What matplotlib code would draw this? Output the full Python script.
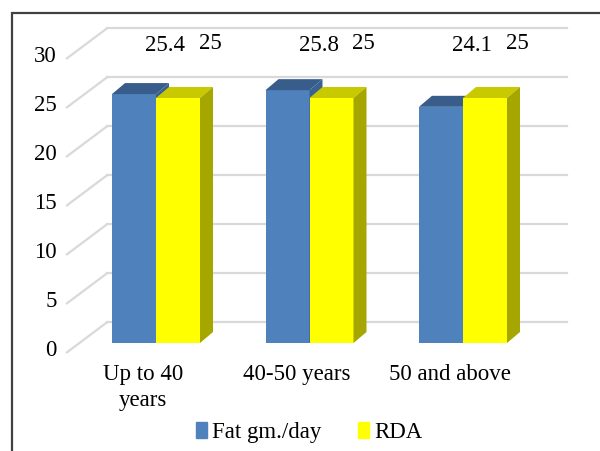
import numpy as np
import matplotlib.pyplot as plt
from matplotlib.patches import Polygon, Rectangle

# values per age group
groups = ["Up to 40\nyears", "40-50 years", "50 and above"]
fat = [25.4, 25.8, 24.1]
rda = [25, 25, 25]
series_names = ["Fat gm./day", "RDA"]
yticks = [0, 5, 10, 15, 20, 25, 30]

plt.rcParams['font.family'] = ['Liberation Serif', 'DejaVu Serif']
fs = 16.5

fig = plt.figure(figsize=(6, 4.51), dpi=100)
ax = fig.add_axes([0, 0, 1, 1])
# one x unit = one group (153.5 px), one y unit = 9.8 px, origin at first group / floor
ax.set_xlim(-156 / 153.5, (600 - 156) / 153.5)
ax.set_ylim((343 - 451) / 9.8, 343 / 9.8)
ax.axis('off')

px = 1 / 153.5   # x units per pixel
py = 1 / 9.8     # y units per pixel

# pseudo 3D walls: back gridlines plus the slanted lines on the side wall
grid_c = '#d9d9d9'
x_front, x_back, x_right = -0.58, -0.32, 2.68
for v in yticks:
    yb = v + 2.1
    yf = v - 0.95
    ax.plot([x_back, x_right], [yb, yb], color=grid_c, lw=1.6, zorder=1)
    ax.plot([x_front, x_back], [yf, yb], color=grid_c, lw=1.6, zorder=1)
    ax.text(-99 * px, v - 0.75, str(v), ha='right', va='center', fontsize=fs)

# bars with top and side faces
bw = 44 * px
ddx, ddy = 13 * px, 11 * py
x = np.arange(len(groups))

def bar3d(x0, h, front, top, side):
    ax.bar(x0, h, width=bw, align='edge', color=front, zorder=3)
    ax.add_patch(Polygon([(x0, h), (x0 + ddx, h + ddy), (x0 + bw + ddx, h + ddy), (x0 + bw, h)],
                         closed=True, color=top, zorder=3, lw=0))
    ax.add_patch(Polygon([(x0 + bw, 0), (x0 + bw + ddx, ddy), (x0 + bw + ddx, h + ddy), (x0 + bw, h)],
                         closed=True, color=side, zorder=3, lw=0))

for i in x:
    bar3d(i - bw, fat[i], '#4f81bd', '#385d8a', '#3a6193')
    bar3d(i, rda[i], '#ffff00', '#c9c900', '#a6a600')
    ax.text(i - bw / 2 + 31 * px, 30.4, f"{fat[i]}", ha='center', va='center', fontsize=fs)
    ax.text(i + bw / 2 + 32 * px, 30.6, f"{rda[i]}", ha='center', va='center', fontsize=fs)
    ax.text(i - 13 * px, -2.1, groups[i], ha='center', va='top', fontsize=fs, linespacing=1.35)

# legend
handles = [Rectangle((0, 0), 1, 1, color='#4f81bd'), Rectangle((0, 0), 1, 1, color='#ffff00')]
fig.legend(handles, series_names, loc='center', bbox_to_anchor=(0.515, 0.04), ncol=2,
           frameon=False, fontsize=fs, handlelength=0.5, handleheight=0.7,
           handletextpad=0.2, columnspacing=1.6)

# chart border, running off the right and bottom edges
fig.patches.append(Rectangle((12 / 600, -0.1), 1.2, (451 - 13) / 451 + 0.1,
                             transform=fig.transFigure, fill=False, ec='#404040', lw=1.6))

fig.savefig('out.png', dpi=100)
